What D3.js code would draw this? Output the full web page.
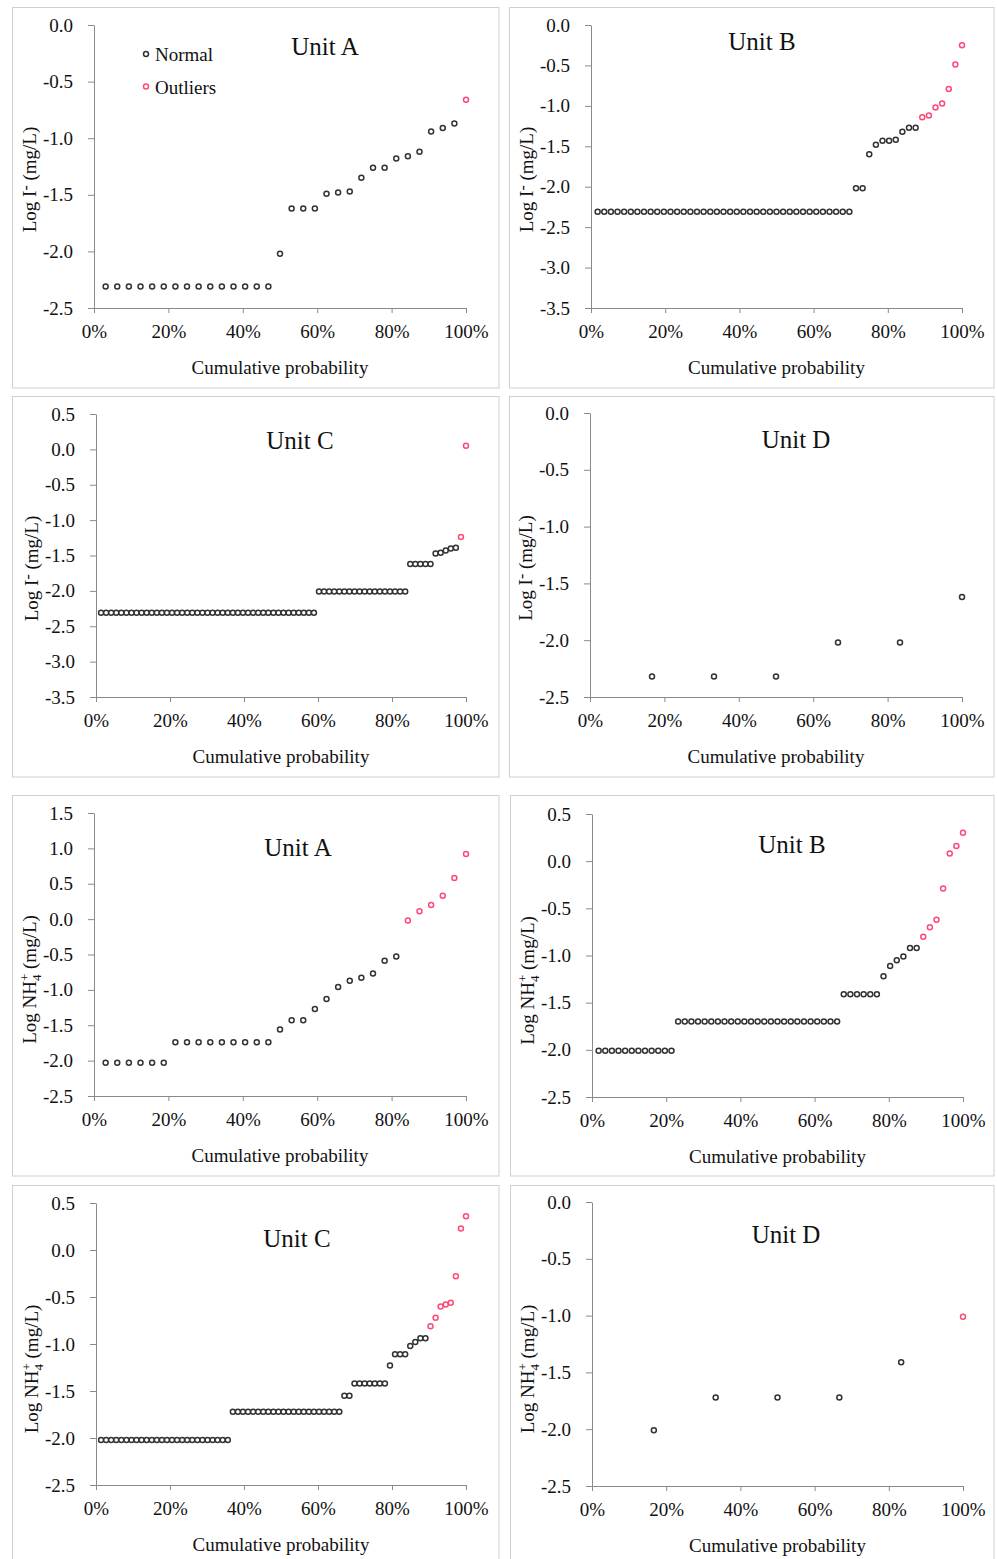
<!DOCTYPE html>
<html>
<head>
<meta charset="utf-8">
<script src="https://cdn.jsdelivr.net/npm/d3@7"></script>
<style>
body{margin:0;background:#fff;}
svg text{font-family:"Liberation Serif","Times New Roman",serif;fill:#111;}
</style>
</head>
<body>
<svg id="chart" width="997" height="1559"></svg>
<script>
//x axis ticks, shared by all panels
var xTicks = [0, 0.2, 0.4, 0.6, 0.8, 1.0];
var xTickLabels = ["0%", "20%", "40%", "60%", "80%", "100%"];
var unitNames = ["Unit A", "Unit B", "Unit C", "Unit D"];

//y axis ranges (log mg/L)
var yRangeI = [[-2.5, 0], [-3.5, 0], [-3.5, 0.5], [-2.5, 0]];
var yRangeN = [[-2.5, 1.5], [-2.5, 0.5], [-2.5, 0.5], [-2.5, 0]];

//Log I- , sorted values
var iA_normal = [-2.31,-2.31,-2.31,-2.31,-2.31,-2.31,-2.31,-2.31,-2.31,-2.31,
  -2.31,-2.31,-2.31,-2.31,-2.31,-2.02,-1.62,-1.62,-1.62,-1.49,
  -1.48,-1.47,-1.35,-1.26,-1.26,-1.18,-1.16,-1.12,-0.94,-0.91,-0.87];
var iA_out = [-0.66];

var iB_normal = [-2.31,-2.31,-2.31,-2.31,-2.31,-2.31,-2.31,-2.31,-2.31,-2.31,
  -2.31,-2.31,-2.31,-2.31,-2.31,-2.31,-2.31,-2.31,-2.31,-2.31,
  -2.31,-2.31,-2.31,-2.31,-2.31,-2.31,-2.31,-2.31,-2.31,-2.31,
  -2.31,-2.31,-2.31,-2.31,-2.31,-2.31,-2.31,-2.31,-2.31,
  -2.02,-2.02,-1.60,-1.48,-1.43,-1.43,-1.42,-1.32,-1.27,-1.27];
var iB_out = [-1.14,-1.12,-1.02,-0.97,-0.79,-0.49,-0.25];

var iC_normal = [-2.31,-2.31,-2.31,-2.31,-2.31,-2.31,-2.31,-2.31,-2.31,-2.31,
  -2.31,-2.31,-2.31,-2.31,-2.31,-2.31,-2.31,-2.31,-2.31,-2.31,
  -2.31,-2.31,-2.31,-2.31,-2.31,-2.31,-2.31,-2.31,-2.31,-2.31,
  -2.31,-2.31,-2.31,-2.31,-2.31,-2.31,-2.31,-2.31,-2.31,-2.31,
  -2.31,-2.31,-2.31,
  -2.01,-2.01,-2.01,-2.01,-2.01,-2.01,-2.01,-2.01,-2.01,-2.01,
  -2.01,-2.01,-2.01,-2.01,-2.01,-2.01,-2.01,-2.01,
  -1.62,-1.62,-1.62,-1.62,-1.62,-1.47,-1.46,-1.43,-1.40,-1.39];
var iC_out = [-1.24, 0.05];

var iD_normal = [-2.32,-2.32,-2.32,-2.02,-2.02,-1.62];
var iD_out = [];

//Log NH4+
var nA_normal = [-2.03,-2.03,-2.03,-2.03,-2.03,-2.03,
  -1.74,-1.74,-1.74,-1.74,-1.74,-1.74,-1.74,-1.74,-1.74,
  -1.56,-1.43,-1.43,-1.27,-1.13,-0.96,-0.87,-0.83,-0.77,-0.59,-0.53];
var nA_out = [-0.02,0.11,0.20,0.33,0.58,0.92];

var nB_normal = [-2.01,-2.01,-2.01,-2.01,-2.01,-2.01,-2.01,-2.01,-2.01,-2.01,-2.01,-2.01,
  -1.70,-1.70,-1.70,-1.70,-1.70,-1.70,-1.70,-1.70,-1.70,-1.70,
  -1.70,-1.70,-1.70,-1.70,-1.70,-1.70,-1.70,-1.70,-1.70,-1.70,
  -1.70,-1.70,-1.70,-1.70,-1.70,
  -1.41,-1.41,-1.41,-1.41,-1.41,-1.41,-1.22,-1.11,-1.05,-1.01,-0.92,-0.92];
var nB_out = [-0.80,-0.70,-0.62,-0.29,0.08,0.16,0.30];

var nC_normal = [-2.02,-2.02,-2.02,-2.02,-2.02,-2.02,-2.02,-2.02,-2.02,-2.02,
  -2.02,-2.02,-2.02,-2.02,-2.02,-2.02,-2.02,-2.02,-2.02,-2.02,
  -2.02,-2.02,-2.02,-2.02,-2.02,-2.02,
  -1.72,-1.72,-1.72,-1.72,-1.72,-1.72,-1.72,-1.72,-1.72,-1.72,
  -1.72,-1.72,-1.72,-1.72,-1.72,-1.72,-1.72,-1.72,-1.72,-1.72,-1.72,-1.72,
  -1.55,-1.55,-1.42,-1.42,-1.42,-1.42,-1.42,-1.42,-1.42,
  -1.23,-1.11,-1.11,-1.11,-1.02,-0.98,-0.94,-0.94];
var nC_out = [-0.81,-0.72,-0.60,-0.58,-0.56,-0.28,0.23,0.36];

var nD_normal = [-2.01,-1.72,-1.72,-1.72,-1.41];
var nD_out = [-1.01];

//panel layout: frame box, plot box [left,right,top,bottom], title position
var panels = [
  {frame:[12.5,7.5,499,388], plot:[94,466,25,308], title:[325,55], yr:yRangeI[0], normal:iA_normal, out:iA_out, ion:"I", unit:0, legend:true},
  {frame:[509.5,7.5,994,388], plot:[591,962,25,308], title:[762,50], yr:yRangeI[1], normal:iB_normal, out:iB_out, ion:"I", unit:1},
  {frame:[12.5,396.5,499,777], plot:[96,466,414,697], title:[300,449], yr:yRangeI[2], normal:iC_normal, out:iC_out, ion:"I", unit:2},
  {frame:[509.5,396.5,994,777], plot:[590,962,413,697], title:[796,448], yr:yRangeI[3], normal:iD_normal, out:iD_out, ion:"I", unit:3},
  {frame:[12.5,795.5,499,1176], plot:[94,466,813,1096], title:[298,856], yr:yRangeN[0], normal:nA_normal, out:nA_out, ion:"N", unit:0},
  {frame:[510.5,795.5,994,1176], plot:[592,963,814,1097], title:[792,853], yr:yRangeN[1], normal:nB_normal, out:nB_out, ion:"N", unit:1},
  {frame:[12.5,1185.5,499,1566], plot:[96,466,1203,1485], title:[297,1247], yr:yRangeN[2], normal:nC_normal, out:nC_out, ion:"N", unit:2},
  {frame:[510.5,1185.5,994,1566], plot:[592,963,1202,1486], title:[786,1243], yr:yRangeN[3], normal:nD_normal, out:nD_out, ion:"N", unit:3}
];

var normalColor = "#333333";
var outColor = "#ff4a78";
var axisColor = "#8a8a8a";

var svg = d3.select("#chart");

panels.forEach(function(p){
  var g = svg.append("g");

  g.append("rect")
    .attr("x", p.frame[0]).attr("y", p.frame[1])
    .attr("width", p.frame[2] - p.frame[0])
    .attr("height", p.frame[3] - p.frame[1])
    .attr("fill", "none")
    .attr("stroke", "#cfcfcf");

  var x = d3.scaleLinear().domain([0, 1]).range([p.plot[0], p.plot[1]]);
  var y = d3.scaleLinear().domain(p.yr).range([p.plot[3], p.plot[2]]);

  // y axis
  var yTicks = d3.range(p.yr[0], p.yr[1] + 0.01, 0.5);
  var yAxis = g.append("g")
    .attr("transform", "translate(" + p.plot[0] + ",0)")
    .call(d3.axisLeft(y).tickValues(yTicks).tickSize(6).tickSizeOuter(0).tickPadding(15)
      .tickFormat(function(d){ return (Math.abs(d) < 1e-9 ? 0 : d).toFixed(1); }));

  // x axis
  var xAxis = g.append("g")
    .attr("transform", "translate(0," + p.plot[3] + ")")
    .call(d3.axisBottom(x).tickValues(xTicks).tickSize(5).tickSizeOuter(0)
      .tickFormat(function(d, i){ return xTickLabels[i]; }));
  xAxis.selectAll("text").attr("y", 30).attr("dy", 0);

  [yAxis, xAxis].forEach(function(a){
    a.attr("font-family", null).attr("font-size", 19);
    a.selectAll("path, line").attr("stroke", axisColor);
    a.selectAll("text").attr("fill", "#111");
  });

  // axis titles
  g.append("text")
    .attr("x", (p.plot[0] + p.plot[1]) / 2)
    .attr("y", p.plot[3] + 66)
    .attr("text-anchor", "middle")
    .attr("font-size", 19)
    .text("Cumulative probability");

  var cy = (p.plot[2] + p.plot[3]) / 2 + (p.ion == "I" ? 13 : 25);
  var yl = g.append("text")
    .attr("transform", "translate(" + (p.plot[0] - 58) + "," + cy + ") rotate(-90)")
    .attr("text-anchor", "middle")
    .attr("font-size", 19);
  if (p.ion == "I"){
    yl.append("tspan").text("Log I");
    yl.append("tspan").attr("font-size", 16).attr("dy", -5).text("-");
    yl.append("tspan").attr("dy", 5).text(" (mg/L)");
  } else {
    yl.append("tspan").text("Log NH");
    yl.append("tspan").attr("font-size", 13).attr("dy", 5).text("4");
    yl.append("tspan").attr("font-size", 13).attr("dx", -6.5).attr("dy", -12).text("+");
    yl.append("tspan").attr("dy", 7).text(" (mg/L)");
  }

  g.append("text")
    .attr("x", p.title[0]).attr("y", p.title[1])
    .attr("text-anchor", "middle")
    .attr("font-size", 25)
    .text(unitNames[p.unit]);

  // points: cumulative probability = rank / n
  var all = p.normal.map(function(v){ return {v:v, o:false}; })
    .concat(p.out.map(function(v){ return {v:v, o:true}; }));
  var n = all.length;

  g.selectAll("circle.pt")
    .data(all)
    .enter()
    .append("circle")
      .attr("class", "pt")
      .attr("cx", function(d, i){ return x((i + 1) / n); })
      .attr("cy", function(d){ return y(d.v); })
      .attr("r", 2.5)
      .attr("fill", "#fff")
      .attr("stroke", function(d){ return d.o ? outColor : normalColor; })
      .attr("stroke-width", 1.5);

  // legend only in first panel
  if (p.legend){
    var lg = [{name:"Normal", c:normalColor}, {name:"Outliers", c:outColor}];
    lg.forEach(function(l, i){
      g.append("circle")
        .attr("cx", 146).attr("cy", 54 + i * 32.5)
        .attr("r", 2.5).attr("fill", "#fff")
        .attr("stroke", l.c).attr("stroke-width", 1.5);
      g.append("text")
        .attr("x", 155).attr("y", 61 + i * 32.5)
        .attr("font-size", 19)
        .text(l.name);
    });
  }
});
</script>
</body>
</html>
